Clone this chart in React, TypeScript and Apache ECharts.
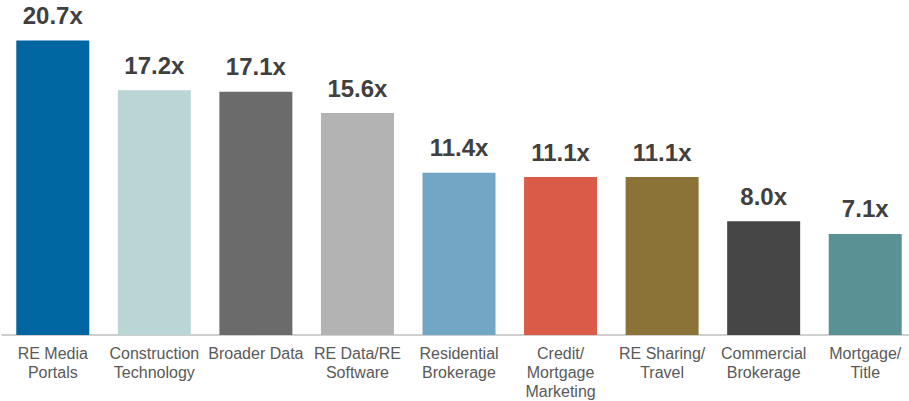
import React, { useEffect, useRef } from "react";
import * as echarts from "echarts";

const categories = [
  "RE Media\nPortals",
  "Construction\nTechnology",
  "Broader Data",
  "RE Data/RE\nSoftware",
  "Residential\nBrokerage",
  "Credit/\nMortgage\nMarketing",
  "RE Sharing/\nTravel",
  "Commercial\nBrokerage",
  "Mortgage/\nTitle",
];
const values = [20.7, 17.2, 17.1, 15.6, 11.4, 11.1, 11.1, 8.0, 7.1];
const colors = [
  "#0066A1",
  "#B9D5D6",
  "#6B6B6B",
  "#B3B3B3",
  "#72A6C4",
  "#D95B48",
  "#8B7337",
  "#454545",
  "#5A9194",
];

export default function App() {
  const ref = useRef<HTMLDivElement>(null);
  useEffect(() => {
    if (!ref.current) return;
    const chart = echarts.init(ref.current, undefined, { renderer: "svg" });
    chart.setOption({
      animation: false,
      grid: { left: 2, right: 0, top: 22, bottom: 64.5, containLabel: false },
      xAxis: {
        type: "category",
        data: categories,
        axisLine: { show: true, lineStyle: { color: "#C0C0C0", width: 1.5 } },
        axisTick: { show: false },
        axisLabel: {
          interval: 0,
          color: "#595959",
          fontFamily: "Liberation Sans, Arial, sans-serif",
          fontSize: 16,
          lineHeight: 19,
          margin: 9,
        },
      },
      yAxis: { type: "value", min: 0, max: 22, show: false, splitLine: { show: false } },
      series: [
        {
          type: "bar",
          barWidth: 73,
          data: values.map((v, i) => ({ value: v, itemStyle: { color: colors[i] } })),
          label: {
            show: true,
            position: "top",
            distance: 13,
            formatter: (p: any) => p.value.toFixed(1) + "x",
            color: "#404040",
            fontWeight: "bold",
            fontSize: 24,
            fontFamily: "Liberation Sans, Arial, sans-serif",
          },
        },
      ],
    });
    return () => chart.dispose();
  }, []);
  return (
    <div
      style={{ position: "absolute", left: 0, top: 0, width: 909, height: 401, overflow: "hidden", background: "#fff" }}
    >
      <div ref={ref} style={{ width: 916, height: 401 }} />
    </div>
  );
}
